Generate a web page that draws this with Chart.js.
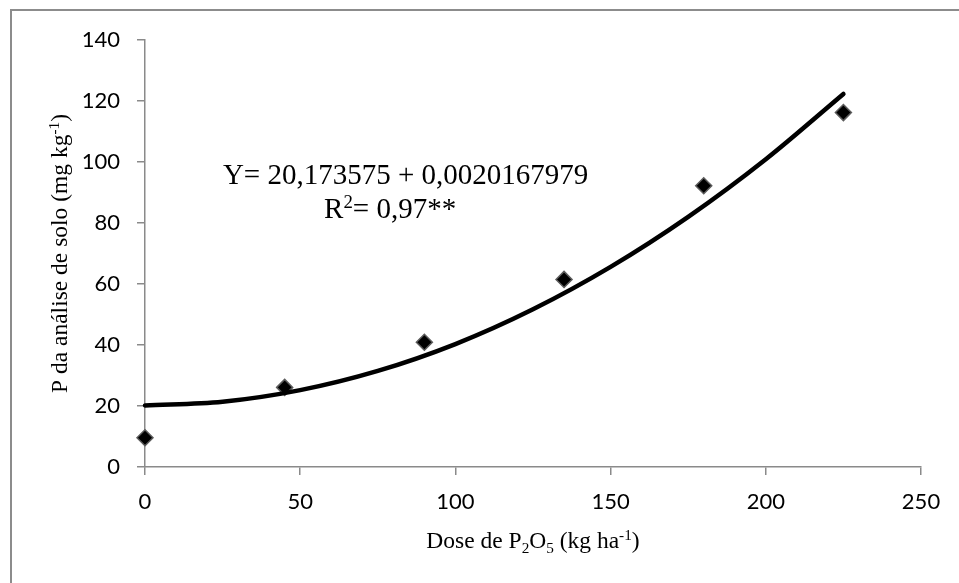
<!DOCTYPE html>
<html lang="pt">
<head>
<meta charset="UTF-8">
<title>P da análise de solo</title>
<style>
  body { margin: 0; background: #fff; }
  #wrap { position: relative; width: 959px; height: 583px; overflow: hidden; }
  #frame { position: absolute; left: 10px; top: 9px; width: 2000px; height: 2000px;
           border-top: 2px solid #8c8c8c; border-left: 2px solid #8c8c8c; }
  canvas { position: absolute; left: 0; top: 0; }
</style>
</head>
<body>
<div id="wrap">
  <div id="frame"></div>
  <canvas id="chart" width="959" height="583"></canvas>
</div>
<script src="https://cdn.jsdelivr.net/npm/chart.js"></script>
<script>
// observed values
const doses = [0, 45, 90, 135, 180, 225];
const observed = [9.6, 26.1, 40.9, 61.5, 92.2, 116.2];
// fitted curve
const curveX = [0, 25, 50, 75, 100, 125, 150, 175, 200, 225];
const curveY = [20.2, 21.4, 25.2, 31.5, 40.3, 51.7, 65.6, 82.0, 100.9, 122.3];
// axis ticks
const xTicks = [0, 50, 100, 150, 200, 250];
const yTicks = [0, 20, 40, 60, 80, 100, 120, 140];

const axisGray = '#8a8a8a';
const serif = '"Liberation Serif", "Times New Roman", serif';

// draws text with sub/superscripts: part = [text, shift] (1 sup, -1 sub)
function richText(ctx, parts, x, y, size, align) {
  const widths = parts.map(([t, s]) => {
    ctx.font = (s ? size * 0.65 : size) + 'px ' + serif;
    return ctx.measureText(t).width;
  });
  const total = widths.reduce((a, b) => a + b, 0);
  let cx = align === 'center' ? x - total / 2 : x;
  ctx.textAlign = 'left';
  ctx.textBaseline = 'alphabetic';
  parts.forEach(([t, s], i) => {
    ctx.font = (s ? size * 0.65 : size) + 'px ' + serif;
    const dy = s === 1 ? -size * 0.36 : s === -1 ? size * 0.2 : 0;
    ctx.fillText(t, cx, y + dy);
    cx += widths[i];
  });
}

const labelsPlugin = {
  id: 'labels',
  afterDraw(chart) {
    const ctx = chart.ctx;
    const area = chart.chartArea;
    const xs = chart.scales.x, ys = chart.scales.y;
    ctx.save();
    ctx.fillStyle = '#000';

    // x axis title
    richText(ctx, [['Dose de P', 0], ['2', -1], ['O', 0], ['5', -1], [' (kg ha', 0], ['-1', 1], [')', 0]],
      (area.left + area.right) / 2, 548, 23.5, 'center');

    // y axis title
    ctx.save();
    ctx.translate(67, (area.top + area.bottom) / 2);
    ctx.rotate(-Math.PI / 2);
    richText(ctx, [['P da análise de solo (mg kg', 0], ['-1', 1], [')', 0]], 0, 0, 23.5, 'center');
    ctx.restore();

    // equation
    richText(ctx, [['Y= 20,173575 + 0,0020167979', 0]], xs.getPixelForValue(25.1), ys.getPixelForValue(92.8), 29, 'left');
    richText(ctx, [['R', 0], ['2', 1], ['= 0,97**', 0]], xs.getPixelForValue(57.7), ys.getPixelForValue(81.6), 29, 'left');
    ctx.restore();
  }
};

new Chart(document.getElementById('chart'), {
  type: 'scatter',
  data: {
    datasets: [{
      label: 'Ajuste',
      data: curveX.map((x, i) => ({ x: x, y: curveY[i] })),
      showLine: true,
      borderColor: '#000',
      borderWidth: 4.5,
      borderCapStyle: 'round',
      pointRadius: 0,
      cubicInterpolationMode: 'monotone',
      clip: false,
      order: 0
    }, {
      label: 'Observado',
      data: doses.map((x, i) => ({ x: x, y: observed[i] })),
      pointStyle: 'rectRot',
      pointRadius: 8,
      backgroundColor: '#000',
      borderColor: '#5c5c5c',
      borderWidth: 1.5,
      clip: false,
      order: 1
    }]
  },
  options: {
    responsive: false,
    animation: false,
    layout: { padding: { left: 0, top: 40, right: 38, bottom: 0 } },
    plugins: { legend: { display: false }, tooltip: { enabled: false } },
    scales: {
      x: {
        type: 'linear',
        min: 0, max: 250,
        afterBuildTicks: s => { s.ticks = xTicks.map(v => ({ value: v })); },
        afterFit: s => { s.height = 116; },
        grid: { drawOnChartArea: false, drawTicks: true, tickLength: 8, color: axisGray, lineWidth: 1.5 },
        border: { color: axisGray, width: 1.5 },
        ticks: { font: { family: 'Lato', size: 22 }, color: '#000', padding: 14, maxRotation: 0 }
      },
      y: {
        type: 'linear',
        min: 0, max: 140,
        afterBuildTicks: s => { s.ticks = yTicks.map(v => ({ value: v })); },
        afterFit: s => { s.width = 145; },
        grid: { drawOnChartArea: false, drawTicks: true, tickLength: 8, color: axisGray, lineWidth: 1.5 },
        border: { color: axisGray, width: 1.5 },
        ticks: { font: { family: 'Lato', size: 22 }, color: '#000', padding: 17 }
      }
    }
  },
  plugins: [labelsPlugin]
});
</script>
</body>
</html>
